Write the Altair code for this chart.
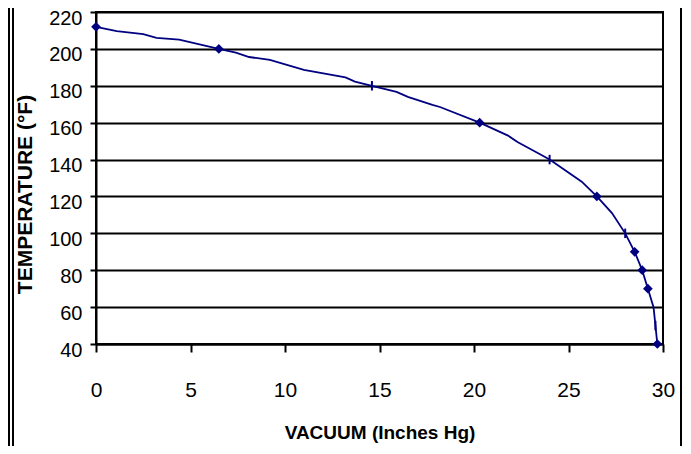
import altair as alt
import pandas as pd

# curve points (vacuum in inches Hg, temperature in F)
vacuum = [0, 1.1, 2.5, 3.2, 4.4, 6.5, 7.4, 8.1, 9.2, 11.0, 13.2, 13.7, 14.6, 15.9, 16.5,
          17.8, 18.2, 20.3, 21.8, 22.3, 23.3, 24.0, 25.7, 26.5, 27.3, 28.0, 28.5, 28.9,
          29.2, 29.5, 29.6, 29.7]
temp = [212, 209.6, 208, 206, 205, 200, 198, 195.6, 194, 188.6, 184.5, 182.3, 180, 176.7, 174,
        169.6, 168.5, 160, 153, 149.5, 144, 140, 128, 120, 111, 100, 90, 80,
        70, 60, 50, 40]

# diamond markers
dia_vac = [0, 6.5, 20.3, 26.5, 28.5, 28.9, 29.2, 29.7]
dia_temp = [212, 200, 160, 120, 90, 80, 70, 40]

# dash markers
dash_vac = [14.6, 24.0, 28.0, 29.6]
dash_temp = [180, 140, 100, 50]

y_ticks = list(range(40, 221, 20))
x_ticks = [0, 5, 10, 15, 20, 25, 30]

line_df = pd.DataFrame({"v": vacuum, "t": temp, "o": list(range(len(vacuum)))})
dia_df = pd.DataFrame({"v": dia_vac, "t": dia_temp})
dash_df = pd.DataFrame({"v": dash_vac, "t": dash_temp})

NAVY = "#000080"
FONT = "Liberation Sans"

xs = alt.Scale(domain=[0, 30], nice=False, zero=False)
ys = alt.Scale(domain=[40, 220], nice=False, zero=False)

x_axis = alt.Axis(values=x_ticks, grid=False, title="VACUUM (Inches Hg)",
                  tickSize=8, labelPadding=27, labelFontSize=21, titleFontSize=19,
                  titleY=88, titleBaseline="middle")
y_axis = alt.Axis(values=y_ticks, grid=True, title="TEMPERATURE (°F)",
                  tickSize=6, labelPadding=8, labelOffset=6, labelFontSize=20,
                  titleFontSize=21, titleX=-71, titleY=182, titleAngle=270,
                  titleAlign="center", titleBaseline="middle")

X = alt.X("v:Q", scale=xs, axis=x_axis)
Y = alt.Y("t:Q", scale=ys, axis=y_axis)

line = alt.Chart(line_df).mark_line(color=NAVY, strokeWidth=1.8).encode(
    x=X, y=Y, order="o:Q")
dia = alt.Chart(dia_df).mark_point(shape="diamond", filled=True, color=NAVY, size=95,
                                   opacity=1).encode(x=X, y=Y)
dash = alt.Chart(dash_df).mark_point(shape="M0,-1L0,1", filled=False, color=NAVY, size=90,
                                     strokeWidth=2, opacity=1).encode(x=X, y=Y)

frame_l1 = alt.Chart(line_df).mark_rule(color="black", strokeWidth=2).encode(
    x=alt.value(-87), y=alt.value(-4), y2=alt.value(434))
frame_l2 = alt.Chart(line_df).mark_rule(color="black", strokeWidth=2).encode(
    x=alt.value(-83), y=alt.value(-4), y2=alt.value(434))
frame_r = alt.Chart(line_df).mark_rule(color="black", strokeWidth=2).encode(
    x=alt.value(585), y=alt.value(-4), y2=alt.value(434))

chart = alt.layer(line, dia, dash, frame_l1, frame_l2, frame_r).properties(
    width=567, height=332,
    autosize=alt.AutoSizeParams(type="none"),
    padding={"left": 88, "top": 4, "right": 20, "bottom": 102},
    background="white",
).configure_view(stroke="black", strokeWidth=2).configure_axis(
    domainColor="black", domainWidth=2, tickColor="black", tickWidth=2,
    gridColor="black", gridWidth=2, gridOpacity=1,
    labelFont=FONT, labelColor="black",
    labelOverlap=False, labelFlush=False,
    titleFont=FONT, titleFontWeight="bold", titleColor="black",
)

chart.save("out.html", embed_options={"renderer": "svg", "actions": False})
